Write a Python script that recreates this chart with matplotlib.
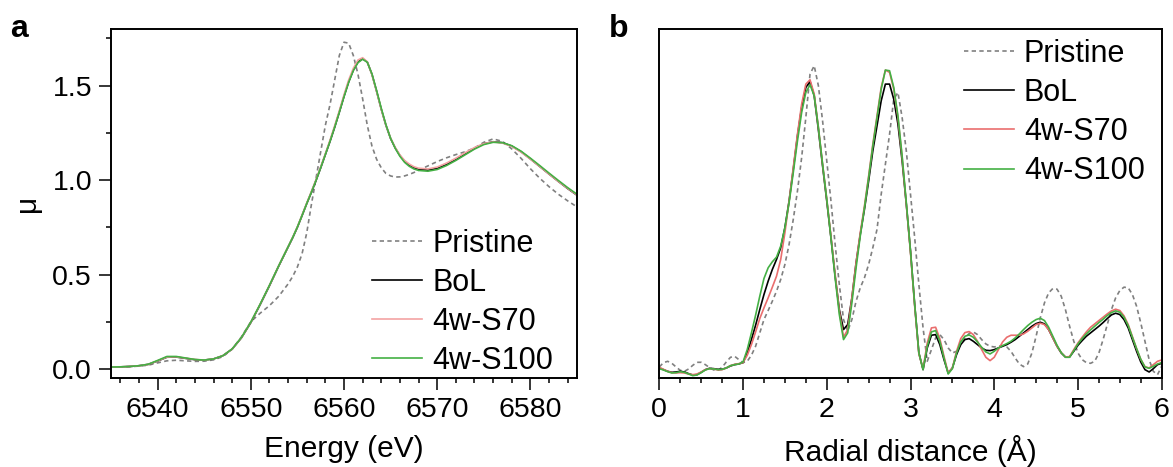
import numpy as np
import matplotlib
matplotlib.use("Agg")
import matplotlib.pyplot as plt
from matplotlib.ticker import MultipleLocator

plt.rcParams['font.family'] = ['Liberation Sans', 'DejaVu Sans']

# ---------------- Panel a: XANES ----------------
energy = [6535, 6536, 6537, 6538, 6539, 6540, 6541, 6542, 6543, 6544,
          6545, 6546, 6547, 6548, 6549, 6550, 6551, 6552, 6553, 6554,
          6554.5, 6555, 6555.5, 6556, 6556.5, 6557, 6557.5, 6558, 6558.5, 6559,
          6559.5, 6560, 6560.5, 6561, 6561.5, 6562, 6562.5, 6563, 6563.5, 6564,
          6564.5, 6565, 6565.5, 6566, 6566.5, 6567, 6567.5, 6568,
          6569, 6570, 6571, 6572, 6573, 6574, 6575, 6576, 6577, 6578,
          6579, 6580, 6581, 6582, 6583, 6584, 6585]

mu_pristine = [0.010, 0.011, 0.012, 0.015, 0.020, 0.032, 0.043, 0.046, 0.043, 0.040,
               0.041, 0.048, 0.065, 0.105, 0.170, 0.250, 0.295, 0.335, 0.385, 0.450,
               0.490, 0.540, 0.610, 0.720, 0.870, 1.010, 1.150, 1.290, 1.400, 1.530,
               1.660, 1.730, 1.725, 1.660, 1.560, 1.430, 1.290, 1.180, 1.110, 1.065,
               1.035, 1.022, 1.016, 1.017, 1.022, 1.030, 1.040, 1.052,
               1.075, 1.098, 1.118, 1.135, 1.150, 1.170, 1.200, 1.218, 1.205, 1.165,
               1.115, 1.060, 1.010, 0.965, 0.925, 0.890, 0.858]

mu_bol = [0.010, 0.011, 0.013, 0.017, 0.024, 0.042, 0.062, 0.063, 0.056, 0.049,
          0.047, 0.053, 0.070, 0.105, 0.165, 0.245, 0.340, 0.440, 0.545, 0.645,
          0.695, 0.750, 0.812, 0.875, 0.935, 0.998, 1.065, 1.135, 1.205, 1.280,
          1.360, 1.443, 1.520, 1.582, 1.625, 1.643, 1.625, 1.560, 1.470, 1.375,
          1.290, 1.220, 1.170, 1.130, 1.100, 1.080, 1.066, 1.058,
          1.053, 1.062, 1.082, 1.108, 1.138, 1.168, 1.192, 1.203, 1.198, 1.180,
          1.150, 1.112, 1.072, 1.032, 0.993, 0.955, 0.920]

mu_s70 = [0.010, 0.011, 0.013, 0.017, 0.024, 0.043, 0.063, 0.064, 0.057, 0.050,
          0.047, 0.053, 0.070, 0.105, 0.166, 0.247, 0.342, 0.442, 0.547, 0.647,
          0.698, 0.753, 0.815, 0.878, 0.940, 1.003, 1.070, 1.140, 1.212, 1.288,
          1.368, 1.452, 1.530, 1.592, 1.636, 1.648, 1.626, 1.558, 1.468, 1.374,
          1.290, 1.222, 1.172, 1.133, 1.104, 1.085, 1.071, 1.063,
          1.059, 1.069, 1.090, 1.116, 1.145, 1.172, 1.193, 1.202, 1.196, 1.178,
          1.148, 1.111, 1.072, 1.032, 0.993, 0.956, 0.921]

mu_s100 = [0.010, 0.011, 0.013, 0.017, 0.025, 0.045, 0.066, 0.066, 0.058, 0.050,
           0.047, 0.053, 0.070, 0.106, 0.167, 0.248, 0.343, 0.443, 0.547, 0.647,
           0.697, 0.752, 0.813, 0.876, 0.936, 0.999, 1.066, 1.136, 1.206, 1.281,
           1.360, 1.442, 1.518, 1.580, 1.622, 1.640, 1.624, 1.562, 1.474, 1.380,
           1.293, 1.221, 1.168, 1.126, 1.094, 1.073, 1.059, 1.051,
           1.047, 1.056, 1.077, 1.104, 1.134, 1.164, 1.188, 1.200, 1.198, 1.182,
           1.153, 1.116, 1.077, 1.037, 0.998, 0.960, 0.925]

# ---------------- Panel b: FT-EXAFS ----------------
r_dist = np.round(np.arange(0, 6.0001, 0.05), 2)

ft_pristine = [0.33, 0.46, 0.50, 0.44, 0.33, 0.23, 0.20, 0.27, 0.38, 0.47,
               0.47, 0.40, 0.31, 0.24, 0.23, 0.32, 0.48, 0.62, 0.65, 0.55,
               0.46, 0.50, 0.68, 0.95, 1.35, 1.75, 2.02, 2.30, 2.60, 2.95,
               3.40, 4.00, 4.75, 5.60, 6.60, 7.80, 9.10, 9.35, 8.75, 7.70,
               6.50, 5.30, 4.00, 2.80, 1.75, 1.40, 1.75, 2.30, 2.70, 3.00,
               3.40, 3.90, 4.45, 5.50, 6.40, 7.30, 8.35, 8.55, 7.80, 6.80,
               5.50, 4.20, 2.80, 1.50, 0.50, 0.85, 1.20, 1.30, 1.15, 0.90,
               0.75, 0.80, 1.00, 1.20, 1.33, 1.38, 1.30, 1.15, 1.02, 0.95,
               0.93, 0.95, 0.97, 0.93, 0.80, 0.60, 0.42, 0.34, 0.42, 0.75,
               1.25, 1.80, 2.25, 2.55, 2.68, 2.66, 2.45, 2.05, 1.55, 1.10,
               0.75, 0.55, 0.46, 0.44, 0.50, 0.75, 1.15, 1.60, 2.05, 2.40,
               2.62, 2.72, 2.70, 2.50, 2.15, 1.65, 1.10, 0.55, 0.20, 0.10,
               0.35]

ft_bol = [0.30, 0.25, 0.20, 0.17, 0.18, 0.20, 0.18, 0.13, 0.09, 0.10,
          0.17, 0.25, 0.29, 0.28, 0.26, 0.26, 0.30, 0.36, 0.40, 0.42,
          0.46, 0.75, 1.15, 1.58, 2.05, 2.50, 2.90, 3.25, 3.55, 3.90,
          4.50, 5.30, 6.25, 7.25, 8.10, 8.70, 8.88, 8.45, 7.43, 6.35,
          5.30, 4.20, 3.05, 2.05, 1.45, 1.60, 2.40, 3.45, 4.30, 5.05,
          5.90, 6.80, 7.55, 8.30, 8.80, 8.80, 8.35, 7.60, 6.50, 5.20,
          3.80, 2.20, 0.75, 0.25, 0.90, 1.28, 1.30, 1.00, 0.55, 0.15,
          0.30, 0.70, 1.00, 1.15, 1.18, 1.10, 1.00, 0.90, 0.83, 0.82,
          0.85, 0.90, 0.95, 1.00, 1.07, 1.15, 1.25, 1.35, 1.45, 1.55,
          1.63, 1.67, 1.62, 1.45, 1.20, 0.95, 0.75, 0.63, 0.63, 0.80,
          0.98, 1.12, 1.25, 1.35, 1.45, 1.55, 1.66, 1.78, 1.89, 1.94,
          1.90, 1.75, 1.50, 1.15, 0.80, 0.48, 0.25, 0.18, 0.28, 0.40,
          0.44]

ft_s70 = [0.32, 0.26, 0.20, 0.16, 0.15, 0.16, 0.15, 0.12, 0.10, 0.12,
          0.18, 0.25, 0.28, 0.27, 0.24, 0.25, 0.30, 0.37, 0.41, 0.43,
          0.46, 0.68, 1.00, 1.38, 1.78, 2.10, 2.40, 2.72, 3.05, 3.55,
          4.35, 5.30, 6.30, 7.30, 8.20, 8.80, 8.93, 8.50, 7.50, 6.40,
          5.35, 4.25, 3.10, 2.00, 1.22, 1.45, 2.40, 3.45, 4.35, 5.15,
          6.05, 7.00, 7.85, 8.70, 9.22, 9.15, 8.65, 7.80, 6.60, 5.20,
          3.75, 2.15, 0.72, 0.28, 1.05, 1.50, 1.52, 1.18, 0.65, 0.15,
          0.30, 0.80, 1.18, 1.36, 1.39, 1.30, 1.10, 0.85, 0.62, 0.52,
          0.62, 0.85, 1.08, 1.22, 1.28, 1.28, 1.28, 1.32, 1.40, 1.50,
          1.60, 1.64, 1.60, 1.45, 1.20, 0.95, 0.76, 0.63, 0.64, 0.85,
          1.05, 1.22, 1.38, 1.52, 1.62, 1.72, 1.82, 1.92, 2.01, 2.06,
          2.02, 1.86, 1.60, 1.24, 0.88, 0.56, 0.34, 0.30, 0.40, 0.50,
          0.54]

ft_s100 = [0.28, 0.24, 0.19, 0.15, 0.16, 0.19, 0.17, 0.12, 0.07, 0.09,
           0.16, 0.24, 0.28, 0.27, 0.25, 0.26, 0.30, 0.37, 0.40, 0.42,
           0.48, 0.85, 1.35, 1.88, 2.45, 2.98, 3.30, 3.48, 3.62, 3.95,
           4.50, 5.25, 6.15, 7.10, 7.95, 8.55, 8.78, 8.45, 7.50, 6.40,
           5.35, 4.20, 3.00, 1.90, 1.15, 1.35, 2.25, 3.30, 4.25, 5.10,
           6.00, 6.95, 7.80, 8.65, 9.22, 9.20, 8.70, 7.85, 6.65, 5.25,
           3.80, 2.20, 0.75, 0.25, 0.95, 1.38, 1.42, 1.10, 0.60, 0.12,
           0.28, 0.75, 1.08, 1.25, 1.29, 1.22, 1.08, 0.92, 0.78, 0.72,
           0.80, 0.90, 0.97, 1.03, 1.10, 1.20, 1.32, 1.45, 1.57, 1.67,
           1.75, 1.79, 1.72, 1.52, 1.25, 0.98, 0.76, 0.62, 0.62, 0.82,
           1.02, 1.18, 1.32, 1.44, 1.55, 1.66, 1.76, 1.87, 1.96, 2.01,
           1.97, 1.82, 1.57, 1.22, 0.88, 0.56, 0.33, 0.29, 0.35, 0.42,
           0.46]

labels = ["Pristine", "BoL", "4w-S70", "4w-S100"]

# ---------------- styling ----------------
FS_TICK = 20.5
FS_LABEL = 21.5
FS_LEG = 22
c_pri = "#808080"
c_bol = "#000000"
c_s70_a = "#f4a3a3"
c_s70_b = "#ea6e6e"
c_s100 = "#44b044"
LW = 1.2
dash = (0, (2.6, 2.0))

W, H = 1173, 467
fig = plt.figure(figsize=(W / 100, H / 100), dpi=100)
ax1 = fig.add_axes([111 / W, (H - 378) / H, 466 / W, 349 / H])
ax2 = fig.add_axes([659.3 / W, (H - 378) / H, 502.4 / W, 349 / H])

leg_kw = dict(frameon=False, fontsize=FS_LEG, handlelength=1.65, handletextpad=0.32,
              labelspacing=0.30, borderpad=0, borderaxespad=0)

# Panel a
ax1.plot(energy, mu_pristine, color=c_pri, lw=LW, ls=dash, label=labels[0])
ax1.plot(energy, mu_bol, color=c_bol, lw=LW, label=labels[1])
ax1.plot(energy, mu_s70, color=c_s70_a, lw=LW, label=labels[2])
ax1.plot(energy, mu_s100, color=c_s100, lw=LW, label=labels[3])
ax1.set_xlim(6535, 6585)
ax1.set_ylim(-0.048, 1.80)
ax1.xaxis.set_major_locator(MultipleLocator(10))
ax1.xaxis.set_minor_locator(MultipleLocator(2))
ax1.yaxis.set_major_locator(MultipleLocator(0.5))
ax1.yaxis.set_minor_locator(MultipleLocator(0.25))
ax1.yaxis.set_major_formatter(matplotlib.ticker.FormatStrFormatter('%.1f'))
ax1.set_xlabel("Energy (eV)", fontsize=FS_LABEL, labelpad=9)
ax1.set_ylabel("μ", fontsize=FS_LABEL, labelpad=8)
ax1.legend(loc="upper left", bbox_to_anchor=(0.56, 0.428), **leg_kw)

# Panel b
ax2.plot(r_dist, ft_pristine, color=c_pri, lw=LW, ls=dash, label=labels[0])
ax2.plot(r_dist, ft_bol, color=c_bol, lw=LW, label=labels[1])
ax2.plot(r_dist, ft_s70, color=c_s70_b, lw=LW, label=labels[2])
ax2.plot(r_dist, ft_s100, color=c_s100, lw=LW, label=labels[3])
ax2.set_xlim(0, 6)
ax2.set_ylim(0, 10.45)
ax2.xaxis.set_major_locator(MultipleLocator(1))
ax2.xaxis.set_minor_locator(MultipleLocator(0.25))
ax2.set_yticks([])
ax2.set_xlabel("Radial distance (Å)", fontsize=FS_LABEL, labelpad=9)
ax2.legend(loc="upper left", bbox_to_anchor=(0.606, 0.972), **leg_kw)

for ax in (ax1, ax2):
    for sp in ax.spines.values():
        sp.set_linewidth(1.4)
    ax.tick_params(which="major", direction="out", length=8.6, width=1.1,
                   labelsize=FS_TICK, pad=5)
    ax.tick_params(which="minor", direction="out", length=3.6, width=1.1)
    ax.tick_params(axis="x", which="both", top=False)
    ax.tick_params(axis="y", which="both", right=False)

fig.text(10 / W, 1 - 37 / H, "a", fontsize=23, fontweight="bold", va="baseline")
fig.text(609 / W, 1 - 37 / H, "b", fontsize=23, fontweight="bold", va="baseline")

fig.savefig("out.png", dpi=100)
